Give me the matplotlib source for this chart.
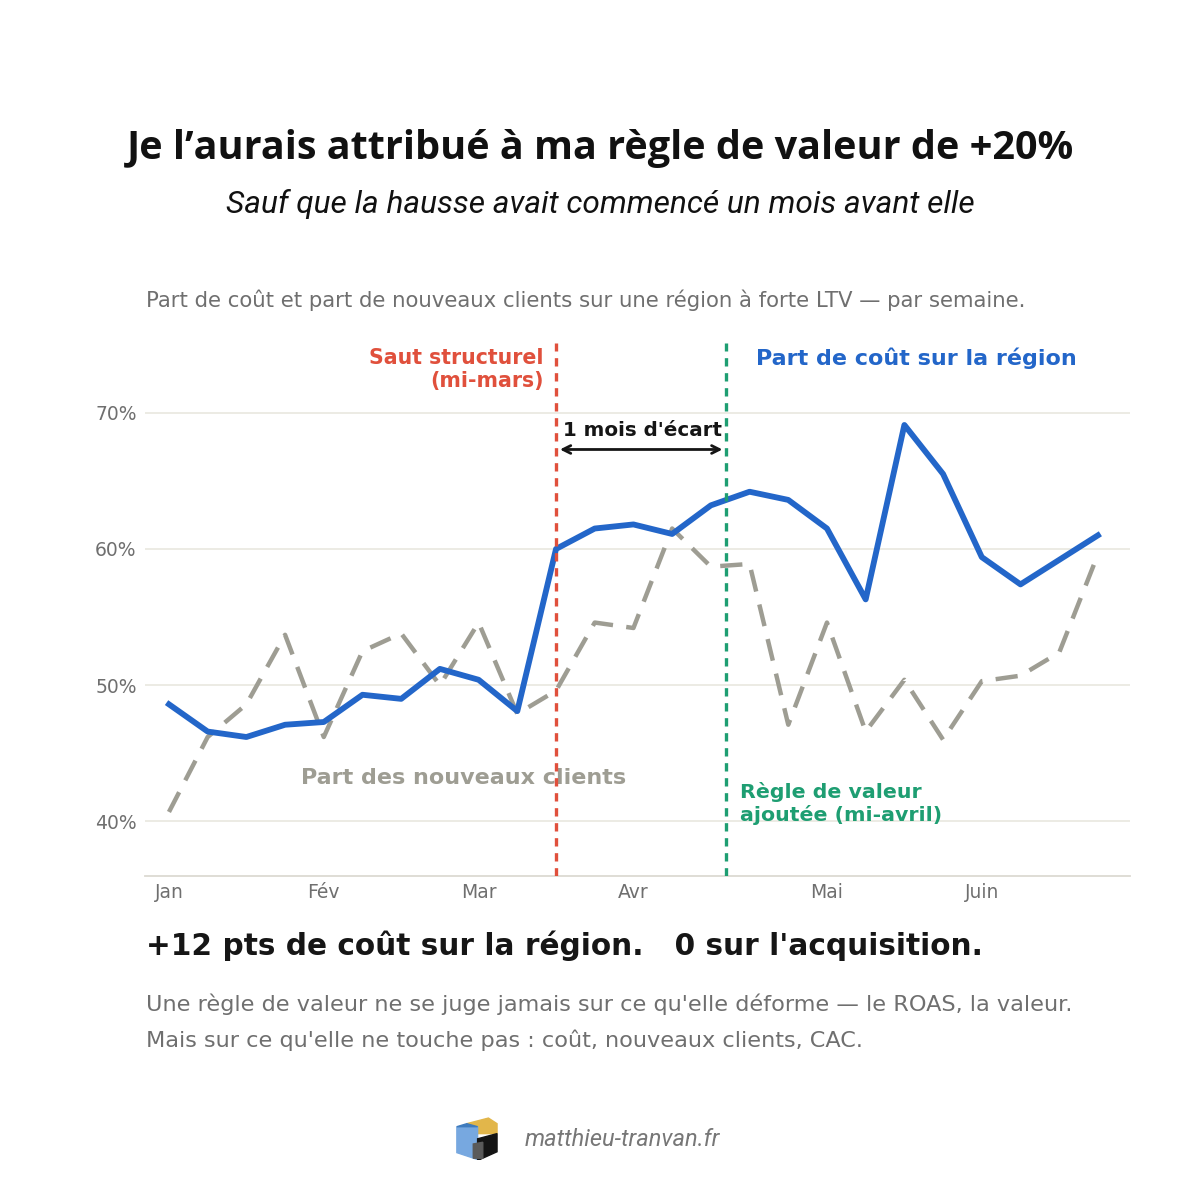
import numpy as np
import matplotlib.pyplot as plt
from matplotlib.patches import Polygon

plt.rcParams['font.family'] = ['DejaVu Sans']

# weekly data, Jan -> end of June (25 weeks)
weeks = np.arange(25)
cost_share = [48.6, 46.6, 46.2, 47.1, 47.3, 49.3, 49.0, 51.2, 50.4, 48.1,
              60.0, 61.5, 61.8, 61.1, 63.2, 64.2, 63.6, 61.5, 56.3, 69.1,
              65.5, 59.4, 57.4, 59.2, 61.0]
new_clients = [40.7, 46.2, 48.6, 53.7, 46.2, 52.5, 53.8, 50.0, 54.6, 47.9,
               49.6, 54.6, 54.2, 61.5, 58.7, 58.9, 47.1, 54.6, 46.6, 50.4,
               46.0, 50.3, 50.7, 52.4, 59.6]
month_pos = [0, 4, 8, 12, 17, 21]
month_labels = ["Jan", "Fév", "Mar", "Avr", "Mai", "Juin"]
y_ticks = [40, 50, 60, 70]
jump_week = 10
rule_week = 14.4

BLUE = "#2366c9"
GRAY = "#9e9d93"
RED = "#e0503c"
GREEN = "#1e9e72"
TXT = "#6f6f6f"

fig = plt.figure(figsize=(12, 12), dpi=100)
fig.patch.set_facecolor("white")

ax = fig.add_axes([0.1208, 0.27, 0.8209, 0.444])
ax.set_xlim(-0.62, 24.83)
ax.set_ylim(36, 75.1)

for yt in y_ticks:
    ax.axhline(yt, color="#ebe9e2", lw=1.3, zorder=0)

ax.plot(weeks, new_clients, color=GRAY, lw=3.2, dashes=(5, 3), zorder=2)
ax.plot(weeks, cost_share, color=BLUE, lw=4.2, solid_joinstyle="round", zorder=3)

ax.axvline(jump_week, color=RED, lw=2.4, dashes=(2.5, 2), zorder=4)
ax.axvline(rule_week, color=GREEN, lw=2.4, dashes=(2.5, 2), zorder=4)

for s in ["top", "right", "left"]:
    ax.spines[s].set_visible(False)
ax.spines["bottom"].set_color("#dcdad2")
ax.spines["bottom"].set_linewidth(1.3)

ax.set_xticks(month_pos)
ax.set_xticklabels(month_labels)
ax.set_yticks(y_ticks)
ax.set_yticklabels([f"{v}%" for v in y_ticks])
ax.tick_params(axis="both", length=0, labelsize=13.5, colors=TXT)
ax.tick_params(axis="x", pad=5)
ax.tick_params(axis="y", pad=6)

# annotations
ax.text(9.68, 74.04, "Saut structurel", color=RED, fontsize=14.8,
        fontweight="bold", ha="right", va="center")
ax.text(9.68, 72.35, "(mi-mars)", color=RED, fontsize=14.8,
        fontweight="bold", ha="right", va="center")
ax.text(15.17, 74.0, "Part de coût sur la région", color=BLUE, fontsize=16,
        fontweight="bold", ha="left", va="center")
ax.text(3.41, 43.2, "Part des nouveaux clients", color=GRAY, fontsize=16,
        fontweight="bold", ha="left", va="center")
ax.text(14.75, 42.2, "Règle de valeur", color=GREEN,
        fontsize=14.75, fontweight="bold", ha="left", va="center")
ax.text(14.75, 40.44, "ajoutée (mi-avril)", color=GREEN,
        fontsize=14.75, fontweight="bold", ha="left", va="center")
ax.text(10.18, 68.7, "1 mois d'écart", color="#151515", fontsize=14.3,
        fontweight="bold", ha="left", va="center")
ax.annotate("", xy=(10.1, 67.3), xytext=(14.3, 67.3),
            arrowprops=dict(arrowstyle="<->", color="#151515", lw=2,
                            mutation_scale=14, shrinkA=0, shrinkB=0))

# titles and texts
fig.text(0.5, 0.876, "Je l’aurais attribué à ma règle de valeur de +20%",
         family="Open Sans", fontweight="bold", fontsize=28.5, color="#111111",
         ha="center", va="center")
fig.text(0.5, 0.830, "Sauf que la hausse avait commencé un mois avant elle",
         family="Roboto", style="italic", fontsize=22.8, color="#111111",
         ha="center", va="center")
fig.text(0.1217, 0.75, "Part de coût et part de nouveaux clients sur une région à forte LTV — par semaine.",
         fontsize=15.3, color=TXT, ha="left", va="center")
fig.text(0.1217, 0.2117, "+12 pts de coût sur la région.   0 sur l'acquisition.",
         fontsize=21.3, fontweight="bold", color="#161616", ha="left", va="center")
fig.text(0.1217, 0.163, "Une règle de valeur ne se juge jamais sur ce qu'elle déforme — le ROAS, la valeur.",
         fontsize=16.1, color=TXT, ha="left", va="center")
fig.text(0.1217, 0.133, "Mais sur ce qu'elle ne touche pas : coût, nouveaux clients, CAC.",
         fontsize=16.1, color=TXT, ha="left", va="center")
fig.text(0.4375, 0.05, "matthieu-tranvan.fr", family="Roboto", style="italic",
         fontsize=17, color="#777777", ha="left", va="center")

# small cube logo
lax = fig.add_axes([0.380, 0.033, 0.036, 0.036])
lax.set_xlim(0, 1)
lax.set_ylim(0, 1)
lax.axis("off")
lax.add_patch(Polygon([[0.25, 0.85], [0.75, 0.98], [0.95, 0.85], [0.95, 0.62], [0.5, 0.62], [0.5, 0.78]],
                      closed=True, color="#e2b64a"))
lax.add_patch(Polygon([[0.02, 0.78], [0.5, 0.78], [0.5, 0.02], [0.02, 0.18]],
                      closed=True, color="#77a8e0"))
lax.add_patch(Polygon([[0.02, 0.78], [0.25, 0.85], [0.5, 0.78]],
                      closed=True, color="#3f7bbd"))
lax.add_patch(Polygon([[0.5, 0.5], [0.95, 0.62], [0.95, 0.2], [0.55, 0.02], [0.5, 0.02]],
                      closed=True, color="#141414"))
lax.add_patch(Polygon([[0.4, 0.38], [0.62, 0.42], [0.62, 0.05], [0.4, 0.05]],
                      closed=True, color="#5a5a5a"))

fig.savefig("out.png", dpi=100, facecolor="white")
